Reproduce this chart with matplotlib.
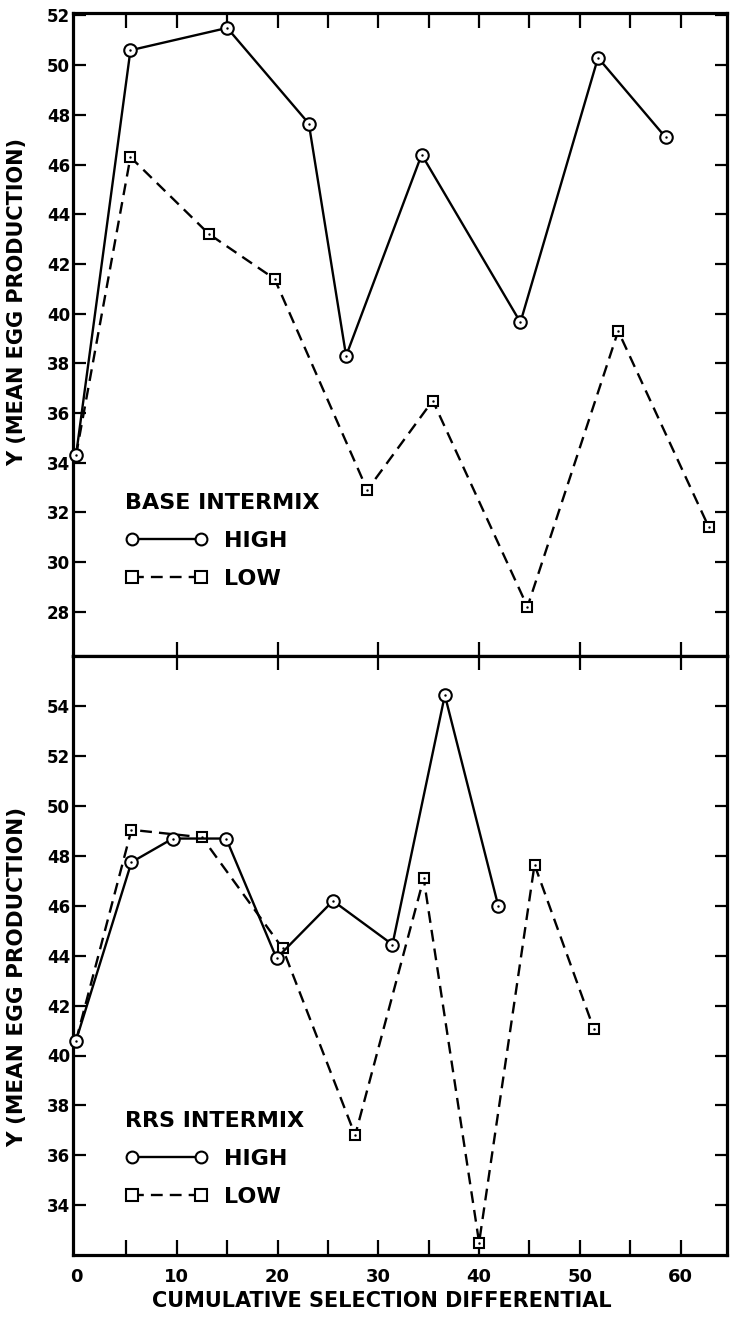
import matplotlib
matplotlib.use("Agg")
import matplotlib.pyplot as plt
from matplotlib.ticker import MultipleLocator, FixedLocator

plt.rcParams['font.family'] = ['DejaVu Sans']
plt.rcParams['font.weight'] = 'bold'

# ---- data ----
base_high_x = [0, 5.4, 15.0, 23.1, 26.8, 34.3, 44.1, 51.8, 58.5]
base_high_y = [34.3, 50.6, 51.5, 47.65, 38.3, 46.4, 39.65, 50.3, 47.1]
base_low_x = [0, 5.4, 13.2, 19.7, 28.9, 35.4, 44.8, 53.8, 62.8]
base_low_y = [34.3, 46.3, 43.2, 41.4, 32.9, 36.5, 28.2, 39.3, 31.4]

rrs_high_x = [0, 5.5, 9.6, 14.9, 19.9, 25.5, 31.4, 36.6, 41.9]
rrs_high_y = [40.6, 47.75, 48.7, 48.7, 43.9, 46.2, 44.45, 54.45, 46.0]
rrs_low_x = [0, 5.5, 12.5, 20.5, 27.7, 34.5, 40.0, 45.5, 51.4]
rrs_low_y = [40.6, 49.05, 48.75, 44.3, 36.8, 47.1, 32.5, 47.65, 41.05]

top_yticks = [28, 30, 32, 34, 36, 38, 40, 42, 44, 46, 48, 50, 52]
bot_yticks = [34, 36, 38, 40, 42, 44, 46, 48, 50, 52, 54]
x_ticklabels = [0, 10, 20, 30, 40, 50, 60]
mid_ticks = [10, 20, 30, 40, 50, 60]
edge_ticks = [5, 10, 15, 20, 25, 30, 35, 40, 45, 50, 55, 60]

W, H = 730, 1317
fig = plt.figure(figsize=(W / 100, H / 100), dpi=100)

def fx(px):
    return px / W

def fy(py):
    return 1 - py / H

ax_l, ax_r = 73, 727
top_t, mid, bot_b = 13, 656.5, 1255
ax1 = fig.add_axes([fx(ax_l), fy(mid), fx(ax_r - ax_l), (mid - top_t) / H])
ax2 = fig.add_axes([fx(ax_l), fy(bot_b), fx(ax_r - ax_l), (bot_b - mid) / H])

lw = 1.7
for ax, hx, hy, lx, ly in [(ax1, base_high_x, base_high_y, base_low_x, base_low_y),
                           (ax2, rrs_high_x, rrs_high_y, rrs_low_x, rrs_low_y)]:
    ax.plot(lx, ly, color='black', lw=lw, ls=(0, (5, 3)), marker='s', ms=7.5,
            mfc='white', mec='black', mew=1.5, markevery=slice(1, None),
            zorder=3, label='LOW', clip_on=False)
    ax.plot(lx[1:], ly[1:], ls='none', marker='.', ms=1.5, color='black', zorder=5, clip_on=False)
    ax.plot(hx, hy, color='black', lw=lw, ls='-', marker='o', ms=9,
            mfc='white', mec='black', mew=1.5, zorder=4, label='HIGH', clip_on=False)
    ax.plot(hx, hy, ls='none', marker='.', ms=1.5, color='black', zorder=6, clip_on=False)
    for s in ax.spines.values():
        s.set_linewidth(2.3)
    ax.set_xlim(-0.3, 64.6)

ax1.set_ylim(26.2, 52.1)
ax2.set_ylim(32.0, 56.0)

tick_kw = dict(direction='in', width=1.6, colors='black')
# top panel
ax1.yaxis.set_major_locator(FixedLocator(top_yticks))
ax1.set_yticklabels([str(v) for v in top_yticks], fontweight='bold')
ax1.tick_params(axis='y', which='major', left=True, right=True, length=9, pad=2,
                labelsize=12, **tick_kw)
ax1.xaxis.set_major_locator(FixedLocator(edge_ticks))
ax1.tick_params(axis='x', which='major', top=True, bottom=False, labelbottom=False,
                length=11, **tick_kw)
ax1b = ax1.secondary_xaxis('bottom')
ax1b.xaxis.set_major_locator(FixedLocator(mid_ticks))
ax1b.tick_params(axis='x', direction='in', length=10, width=1.6, labelbottom=False)
ax1b.spines['bottom'].set_visible(False)

# bottom panel
ax2.yaxis.set_major_locator(FixedLocator(bot_yticks))
ax2.set_yticklabels([str(v) for v in bot_yticks], fontweight='bold')
ax2.tick_params(axis='y', which='major', left=True, right=True, length=9, pad=2,
                labelsize=12, **tick_kw)
ax2.xaxis.set_major_locator(FixedLocator(x_ticklabels))
ax2.set_xticklabels([str(v) for v in x_ticklabels], fontweight='bold')
ax2.xaxis.set_minor_locator(FixedLocator([5, 15, 25, 35, 45, 55]))
ax2.tick_params(axis='x', which='both', top=False, bottom=True, length=11, pad=9,
                labelsize=13, **tick_kw)
ax2.xaxis.get_major_ticks()[0].tick1line.set_visible(False)
ax2t = ax2.secondary_xaxis('top')
ax2t.xaxis.set_major_locator(FixedLocator(mid_ticks))
ax2t.tick_params(axis='x', direction='in', length=10, width=1.6, labeltop=False)
ax2t.spines['top'].set_visible(False)

# axis labels
fig.text(fx(17), fy(302), 'Y (MEAN EGG PRODUCTION)', rotation=90, ha='center', va='center',
         fontsize=15, fontweight='bold')
fig.text(fx(17), fy(977), 'Y (MEAN EGG PRODUCTION)', rotation=90, ha='center', va='center',
         fontsize=15.5, fontweight='bold')
fig.text(fx(382), fy(1301), 'CUMULATIVE SELECTION DIFFERENTIAL', ha='center', va='center',
         fontsize=15, fontweight='bold')

# legends
for ax, title, ytop in [(ax1, 'BASE INTERMIX', 0.254), (ax2, 'RRS INTERMIX', 0.240)]:
    h_handles, labels = ax.get_legend_handles_labels()
    order = [labels.index('HIGH'), labels.index('LOW')]
    leg = ax.legend([h_handles[i] for i in order], [labels[i] for i in order],
                    title=title, loc='upper left', bbox_to_anchor=(0.08, ytop),
                    frameon=False, numpoints=2, handlelength=3.7, handletextpad=0.75,
                    labelspacing=0.8, borderpad=0, borderaxespad=0,
                    prop={'size': 16, 'weight': 'bold'},
                    title_fontproperties={'size': 16, 'weight': 'bold'},
                    alignment='left')
    for ln in leg.get_lines():
        ln.set_markersize(8.5)

fig.savefig('out.png', dpi=100)
